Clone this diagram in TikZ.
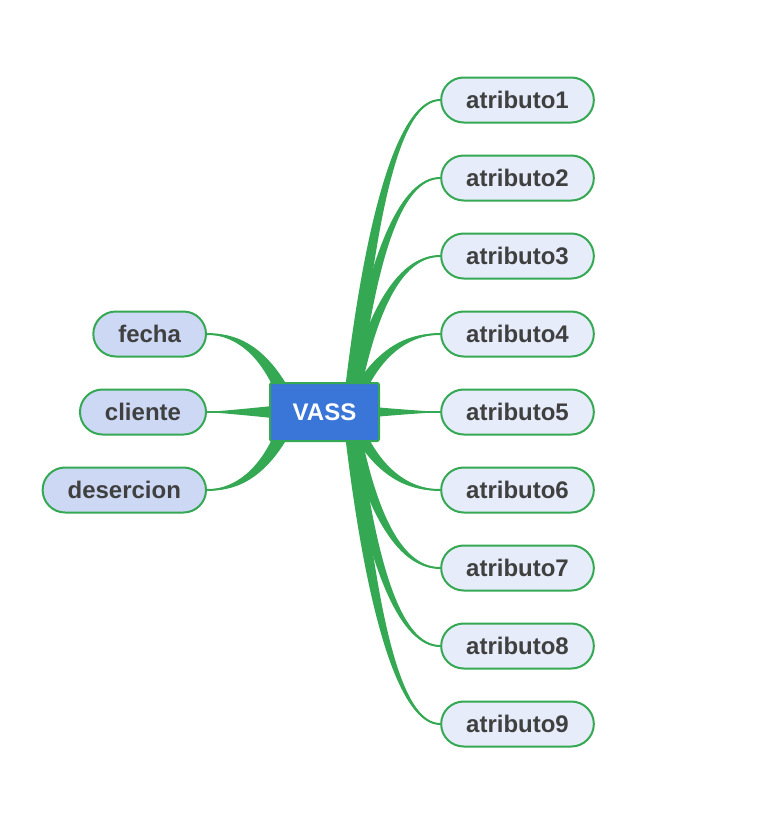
\documentclass[tikz,border=0pt]{standalone}
\usepackage{fontspec}
\setmainfont{Liberation Sans}
\usetikzlibrary{calc,backgrounds}
\definecolor{linkgreen}{RGB}{52,168,83}
\definecolor{rootblue}{RGB}{58,118,216}
\definecolor{leaffill}{RGB}{230,236,250}
\definecolor{sidefill}{RGB}{205,216,245}
\definecolor{labelgray}{RGB}{64,64,64}
\tikzset{
	leaf/.style={draw=linkgreen, line width=2pt, fill=leaffill, rounded corners=22.5pt,
		minimum height=45pt, inner xsep=25pt, inner ysep=0pt, text=labelgray,
		font=\fontsize{24}{28}\selectfont\bfseries},
	sideleaf/.style={leaf, fill=sidefill},
	root/.style={draw=linkgreen, line width=2pt, fill=rootblue, rounded corners=2pt,
		minimum width=109pt, minimum height=58pt, text=white,
		font=\fontsize{24}{28}\selectfont\bfseries}
}
\def\branch(#1)(#2)#3{%
	\coordinate (bq) at ($(#1)!0.35!(#2)$);
	\coordinate (bc) at (bq |- #2);
	\coordinate (b1) at ($(#1)!2/3!(bc)$);
	\coordinate (b2) at ($(#2)!2/3!(bc)$);
	\fill[linkgreen] ($(#1)!#3!90:(bc)$) .. controls ($(b1)!0.75*#3!90:(b2)$) and ($(b2)!0.35*#3!90:(#2)$) .. (#2)
		.. controls ($(b2)!0.35*#3!-90:(#2)$) and ($(b1)!0.75*#3!-90:(b2)$) .. ($(#1)!#3!-90:(bc)$) -- cycle;
	\draw[linkgreen, line width=2pt] (#1) .. controls (b1) and (b2) .. (#2);
}

\begin{document}
\begin{tikzpicture}[x=1pt, y=-1pt]
	%%%%% START %%%%%
	
	\useasboundingbox (0,0) rectangle (782,817);
	
	\node[root] (vass) at (324.5, 412) {VASS};
	\coordinate (vassR) at ($(vass.center)+(25,0)$);
	\coordinate (vassL) at ($(vass.center)+(-33,0)$);
	
	\foreach \i in {1,...,9}
		\node[leaf] (a\i) at (517.5, {22+78*\i}) {atributo\i};
	
	\node[sideleaf, anchor=east] (fecha) at (207, 334) {fecha};
	\node[sideleaf, anchor=east] (cliente) at (207, 412) {cliente};
	\node[sideleaf, anchor=east] (desercion) at (207, 490) {desercion};
	
	\begin{pgfonlayer}{background}
		\foreach \i in {1,...,9}
			\branch(vassR)(a\i.west){7pt};
		
		\branch(vassL)(fecha.east){8pt};
		\branch(vassL)(cliente.east){8pt};
		\branch(vassL)(desercion.east){8pt};
	\end{pgfonlayer}
	
	%%%%% END %%%%%
\end{tikzpicture}
\end{document}
